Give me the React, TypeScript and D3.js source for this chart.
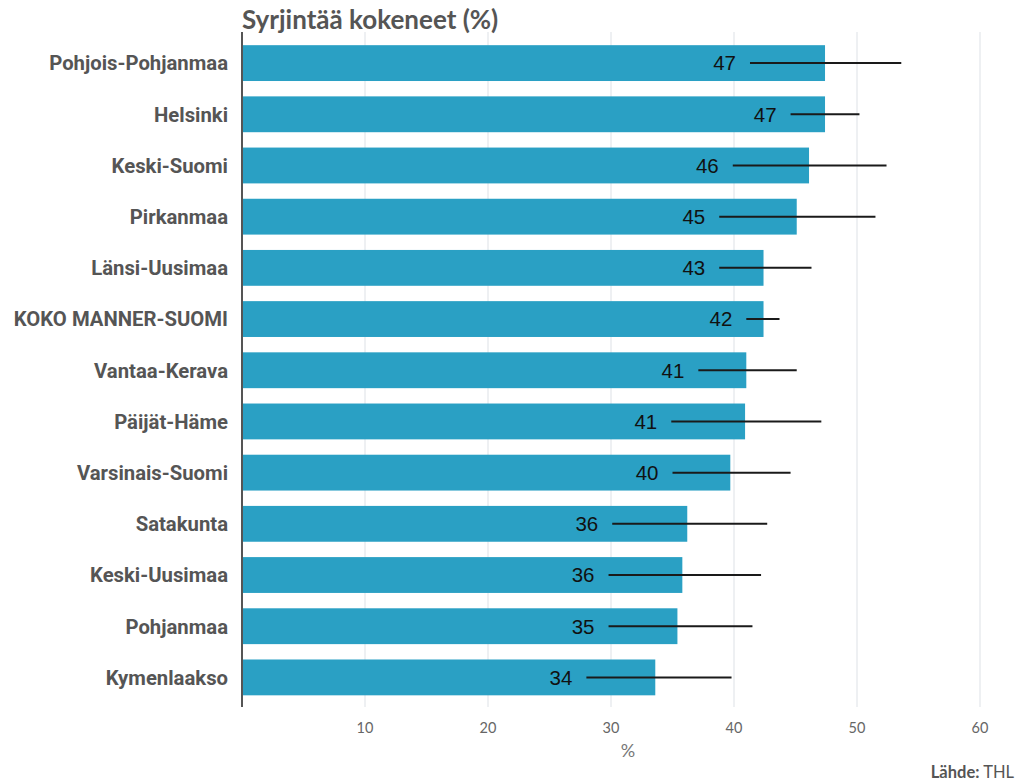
import React from "react";
import * as d3 from "d3";

const categories = [
  "Pohjois-Pohjanmaa", "Helsinki", "Keski-Suomi", "Pirkanmaa", "Länsi-Uusimaa",
  "KOKO MANNER-SUOMI", "Vantaa-Kerava", "Päijät-Häme", "Varsinais-Suomi",
  "Satakunta", "Keski-Uusimaa", "Pohjanmaa", "Kymenlaakso",
];
const values = [47.4, 47.4, 46.1, 45.1, 42.4, 42.4, 41.0, 40.9, 39.7, 36.2, 35.8, 35.4, 33.6];
const lower = [41.3, 44.6, 39.9, 38.8, 38.8, 41.0, 37.1, 34.9, 35.0, 30.1, 29.8, 29.8, 28.0];
const upper = [53.6, 50.2, 52.4, 51.5, 46.3, 43.7, 45.1, 47.1, 44.6, 42.7, 42.2, 41.5, 39.8];
const labels = ["47", "47", "46", "45", "43", "42", "41", "41", "40", "36", "36", "35", "34"];
const xTicks = [10, 20, 30, 40, 50, 60];

const W = 1018, H = 781;
const left = 242, right = 980, top = 37.5, bottom = 703;
const labelFont = "Lato, 'Open Sans', sans-serif";
const catFont = "Roboto, 'Open Sans', sans-serif";

export default function App() {
  const x = d3.scaleLinear().domain([0, 60]).range([left, right]);
  const y = d3.scaleBand<string>().domain(categories).range([top, bottom]).paddingInner(0.3).paddingOuter(0.15);
  const bw = y.bandwidth();
  return (
    <svg width={W} height={H} style={{ position: "absolute", left: 0, top: 0, background: "#fff" }}>
      <text x={left} y={29} fontFamily={labelFont} fontWeight="bold" fontSize={26} fill="#555">Syrjintää kokeneet (%)</text>
      {xTicks.map((t) => (
        <g key={t}>
          <line x1={x(t)} x2={x(t)} y1={32} y2={707} stroke="#dde1e6" strokeWidth={1} />
          <text x={x(t)} y={733} textAnchor="middle" fontFamily={labelFont} fontSize={14.5} fill="#666">{t}</text>
        </g>
      ))}
      {categories.map((c, i) => {
        const yc = (y(c) as number) + bw / 2;
        return (
          <g key={c}>
            <rect x={x(0)} y={y(c)} width={x(values[i]) - x(0)} height={bw} fill="#2aa0c4" />
            <text x={228} y={yc} dy="0.36em" textAnchor="end" fontFamily={catFont} fontWeight="bold" fontSize={20.3} fill="#555">{c}</text>
            <line x1={x(lower[i])} x2={x(upper[i])} y1={yc} y2={yc} stroke="#1a1a1a" strokeWidth={2} />
            <text x={x(lower[i]) - 14} y={yc} dy="0.36em" textAnchor="end" fontFamily="'Liberation Sans', Arial, sans-serif" fontSize={20.5} fill="#111">{labels[i]}</text>
          </g>
        );
      })}
      <line x1={left} x2={left} y1={32} y2={707} stroke="#555" strokeWidth={2} />
      <text x={628} y={757} textAnchor="middle" fontFamily={labelFont} fontSize={18} fill="#777">%</text>
      <text x={1014} y={778} textAnchor="end" fontFamily={labelFont} fontSize={16.5} fill="#555">
        <tspan fontWeight="bold">Lähde:</tspan> THL
      </text>
    </svg>
  );
}
